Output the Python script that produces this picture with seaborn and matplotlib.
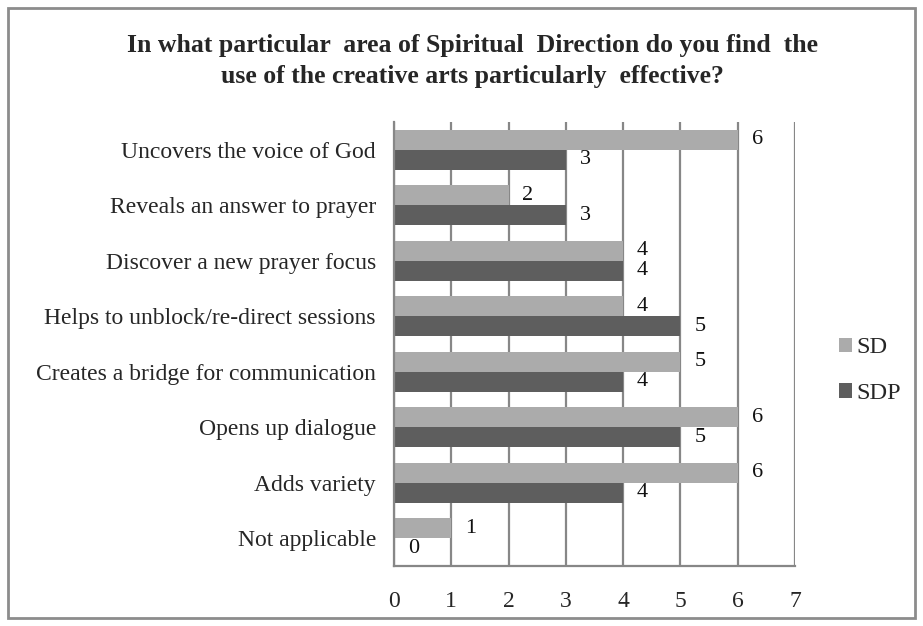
import matplotlib
matplotlib.use("Agg")
import matplotlib.pyplot as plt
from matplotlib.patches import Rectangle
import seaborn as sns
import pandas as pd

categories = [
    "Uncovers the voice of God",
    "Reveals an answer to prayer",
    "Discover a new prayer focus",
    "Helps to unblock/re-direct sessions",
    "Creates a bridge for communication",
    "Opens up dialogue",
    "Adds variety",
    "Not applicable",
]
sd_values = [6, 2, 4, 4, 5, 6, 6, 1]
sdp_values = [3, 3, 4, 5, 4, 5, 4, 0]
series = ["SD", "SDP"]
x_ticks = [0, 1, 2, 3, 4, 5, 6, 7]
title = ("In what particular  area of Spiritual  Direction do you find  the\n"
         "use of the creative arts particularly  effective?")

df = pd.DataFrame({
    "area": categories * 2,
    "count": sd_values + sdp_values,
    "group": [series[0]] * len(categories) + [series[1]] * len(categories),
})

sns.set_theme(style="white")
plt.rcParams["font.family"] = ["Liberation Serif", "DejaVu Serif"]

fig = plt.figure(figsize=(9.23, 6.26), dpi=100)
ax = fig.add_axes([394 / 923, 1 - 566 / 626, (795 - 394) / 923, (566 - 122) / 626])

palette = {"SD": "#ababab", "SDP": "#5e5e5e"}
sns.barplot(data=df, x="count", y="area", hue="group", hue_order=series,
            order=categories, orient="h", palette=palette, width=0.72,
            saturation=1, ax=ax, legend=True, edgecolor="none")

ax.set_xlim(0, 7)
ax.set_xticks(x_ticks)
ax.set_xticklabels([str(t) for t in x_ticks], fontsize=17)
ax.tick_params(axis="y", labelsize=17, length=0, pad=13)
ax.tick_params(axis="x", length=0, pad=18)
ax.set_xlabel("")
ax.set_ylabel("")

grid_color = "#878787"
ax.xaxis.grid(True, color=grid_color, linewidth=1.6)
ax.set_axisbelow(True)
for side in ["top", "right"]:
    ax.spines[side].set_visible(False)
ax.spines["left"].set_color(grid_color)
ax.spines["left"].set_linewidth(1.6)
ax.spines["bottom"].set_color(grid_color)
ax.spines["bottom"].set_linewidth(1.6)
for c in ax.containers:
    ax.bar_label(c, labels=[f"{v:g}" for v in c.datavalues], padding=10,
                 fontsize=16, color="#111111")

ax.legend(loc="center left", bbox_to_anchor=(1.055, 0.44), frameon=False,
          fontsize=17.5, handlelength=0.55, handleheight=0.55,
          handletextpad=0.15, labelspacing=1.0)

fig.text(0.512, 1 - 61 / 626, title, ha="center", va="center",
         fontsize=18.5, fontweight="bold", linespacing=1.45)

fig.patches.append(Rectangle((8 / 923, 8 / 626), (915 - 8) / 923, (618 - 8) / 626,
                             transform=fig.transFigure, fill=False,
                             edgecolor="#8c8c8c", linewidth=2))

fig.savefig("out.png", dpi=100)
